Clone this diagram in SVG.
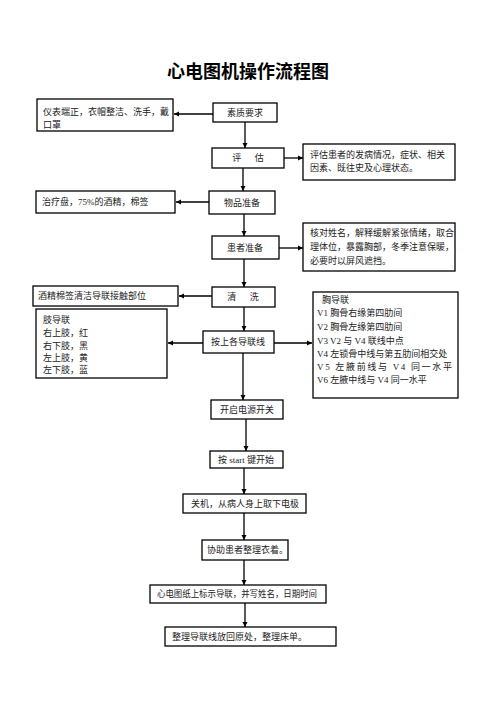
<svg xmlns="http://www.w3.org/2000/svg" width="496" height="702" viewBox="0 0 496 702">
<style>
.bx{fill:#fff;stroke:#000;stroke-width:1.3}
.t{font-family:"Liberation Serif","Noto Sans CJK SC",serif;font-size:9px;fill:#222}
.c{text-anchor:middle}
.ln{stroke:#000;stroke-width:1.3;fill:none}
.title{font-family:"Liberation Sans","Noto Sans CJK SC",sans-serif;font-size:18px;font-weight:bold;text-anchor:middle;fill:#000}
</style>
<defs>
<marker id="ah" viewBox="0 0 10 10" refX="10" refY="5" markerWidth="4" markerHeight="4" orient="auto"><path d="M0,0 L10,5 L0,10 z" fill="#000"/></marker>
</defs>
<rect width="496" height="702" fill="#fff"/>
<text class="title" x="248" y="78">心电图机操作流程图</text>

<g id="connectors">
<line class="ln" x1="245" y1="122" x2="245" y2="148" marker-end="url(#ah)"/>
<line class="ln" x1="243" y1="168" x2="243" y2="191" marker-end="url(#ah)"/>
<line class="ln" x1="244" y1="214" x2="244" y2="236" marker-end="url(#ah)"/>
<line class="ln" x1="244" y1="259" x2="244" y2="287" marker-end="url(#ah)"/>
<line class="ln" x1="244" y1="307" x2="244" y2="331" marker-end="url(#ah)"/>
<line class="ln" x1="243" y1="353" x2="243" y2="400" marker-end="url(#ah)"/>
<line class="ln" x1="246" y1="419" x2="246" y2="451" marker-end="url(#ah)"/>
<line class="ln" x1="244" y1="468" x2="244" y2="494" marker-end="url(#ah)"/>
<line class="ln" x1="244" y1="513" x2="244" y2="540" marker-end="url(#ah)"/>
<line class="ln" x1="244" y1="560" x2="244" y2="585" marker-end="url(#ah)"/>
<line class="ln" x1="245" y1="603" x2="245" y2="627" marker-end="url(#ah)"/>
<line class="ln" x1="213" y1="114" x2="174" y2="114" marker-end="url(#ah)"/>
<line class="ln" x1="284" y1="158" x2="303" y2="158" marker-end="url(#ah)"/>
<line class="ln" x1="209" y1="202" x2="176" y2="202" marker-end="url(#ah)"/>
<line class="ln" x1="279" y1="248" x2="303" y2="248" marker-end="url(#ah)"/>
<line class="ln" x1="212" y1="296" x2="179" y2="296" marker-end="url(#ah)"/>
<line class="ln" x1="203" y1="343" x2="168" y2="343" marker-end="url(#ah)"/>
<line class="ln" x1="274" y1="343" x2="312" y2="343" marker-end="url(#ah)"/>
</g>

<g id="n1"><rect class="bx" x="37" y="99" width="136" height="32"/>
<text class="t" x="43" y="115">仪表端正，衣帽整洁、洗手，戴</text>
<text class="t" x="43" y="128">口罩</text></g>
<g id="n2"><rect class="bx" x="213" y="103" width="64" height="19"/>
<text class="t c" x="245" y="116">素质要求</text></g>
<g id="n3"><rect class="bx" x="212" y="148" width="72" height="20"/>
<text class="t c" x="248" y="161" xml:space="preserve">评      估</text></g>
<g id="n4"><rect class="bx" x="303" y="144" width="152" height="36"/>
<text class="t" x="310" y="158">评估患者的发病情况，症状、相关</text>
<text class="t" x="310" y="171">因素、既往史及心理状态。</text></g>
<g id="n5"><rect class="bx" x="36" y="191" width="139" height="22"/>
<text class="t" x="42" y="205">治疗盘，75%的酒精，棉签</text></g>
<g id="n6"><rect class="bx" x="209" y="191" width="66" height="23"/>
<text class="t c" x="242" y="206">物品准备</text></g>
<g id="n7"><rect class="bx" x="212" y="236" width="67" height="23"/>
<text class="t c" x="245" y="251">患者准备</text></g>
<g id="n8"><rect class="bx" x="303" y="223" width="152" height="48"/>
<text class="t" x="310" y="236">核对姓名，解释缓解紧张情绪，取合</text>
<text class="t" x="310" y="250">理体位，暴露胸部，冬季注意保暖，</text>
<text class="t" x="310" y="264">必要时以屏风遮挡。</text></g>
<g id="n9"><rect class="bx" x="33" y="286" width="145" height="20"/>
<text class="t" x="38" y="299">酒精棉签清洁导联接触部位</text></g>
<g id="n10"><rect class="bx" x="212" y="287" width="63" height="20"/>
<text class="t c" x="243" y="300" xml:space="preserve">清      洗</text></g>
<g id="n11"><rect class="bx" x="36" y="309" width="131" height="69"/>
<text class="t" x="43" y="323">肢导联</text>
<text class="t" x="43" y="336">右上肢，红</text>
<text class="t" x="43" y="349">右下肢，黑</text>
<text class="t" x="43" y="361">左上肢，黄</text>
<text class="t" x="43" y="373">左下肢，蓝</text></g>
<g id="n12"><rect class="bx" x="203" y="331" width="71" height="22"/>
<text class="t c" x="238" y="345">按上各导联线</text></g>
<g id="n13"><rect class="bx" x="313" y="292" width="145" height="106"/>
<text class="t" x="322" y="303">胸导联</text>
<text class="t" x="317" y="316">V1 胸骨右缘第四肋间</text>
<text class="t" x="317" y="330">V2 胸骨左缘第四肋间</text>
<text class="t" x="317" y="344">V3 V2 与 V4 联线中点</text>
<text class="t" x="317" y="357">V4  左锁骨中线与第五肋间相交处</text>
<text class="t" x="317" y="370" textLength="135" lengthAdjust="spacing">V5  左腋前线与  V4  同一水平</text>
<text class="t" x="317" y="383">V6 左腋中线与 V4 同一水平</text></g>
<g id="n14"><rect class="bx" x="211" y="400" width="72" height="19"/>
<text class="t c" x="247" y="413">开启电源开关</text></g>
<g id="n15"><rect class="bx" x="210" y="451" width="73" height="17"/>
<text class="t c" x="246" y="463">按 start 键开始</text></g>
<g id="n16"><rect class="bx" x="183" y="494" width="123" height="19"/>
<text class="t" x="191" y="507">关机，从病人身上取下电极</text></g>
<g id="n17"><rect class="bx" x="202" y="540" width="86" height="20"/>
<text class="t" x="207" y="553">协助患者整理衣着。</text></g>
<g id="n18"><rect class="bx" x="150" y="585" width="176" height="18"/>
<text class="t" x="157" y="597" textLength="160" lengthAdjust="spacingAndGlyphs">心电图纸上标示导联，并写姓名，日期时间</text></g>
<g id="n19"><rect class="bx" x="165" y="627" width="171" height="19"/>
<text class="t" x="172" y="640">整理导联线放回原处，整理床单。</text></g>
</svg>
